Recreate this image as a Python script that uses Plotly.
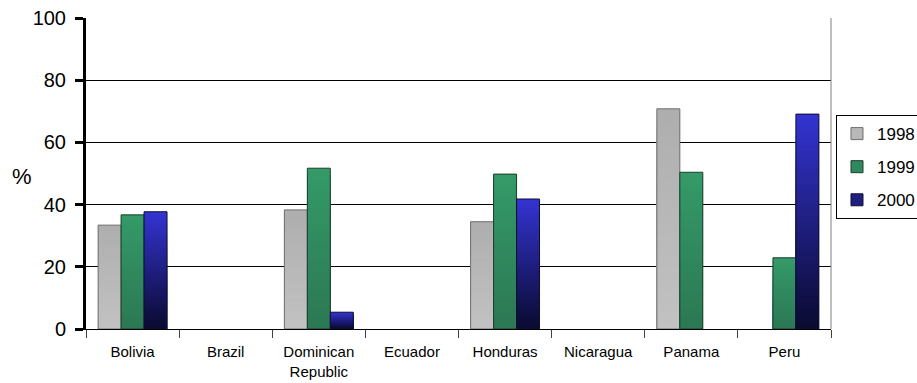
import plotly.graph_objects as go

# Categories and yearly shares (%)
countries = ["Bolivia", "Brazil", "Dominican<br>Republic", "Ecuador",
             "Honduras", "Nicaragua", "Panama", "Peru"]
years = ["1998", "1999", "2000"]
v1998 = [33.4, None, 38.3, None, 34.5, None, 70.8, None]
v1999 = [36.7, None, 51.7, None, 49.8, None, 50.4, 22.9]
v2000 = [37.7, None, 5.4, None, 41.8, None, None, 69.1]

# Gradient endpoints per series: (top colour, bottom colour, outline)
styles = {
    "1998": ((174, 174, 174), (194, 194, 194), "#6e6e6e"),
    "1999": ((52, 154, 104), (44, 120, 84), "#1c3d2a"),
    "2000": ((52, 52, 210), (10, 10, 48), "#101030"),
}
series = {"1998": v1998, "1999": v1999, "2000": v2000}

N_STEPS = 40
FONT = "Liberation Sans, Arial, sans-serif"

fig = go.Figure()


def mix(a, b, t):
    return "rgb(%d,%d,%d)" % tuple(round(a[i] + (b[i] - a[i]) * t) for i in range(3))


for yr in years:
    vals = series[yr]
    top, bottom, edge = styles[yr]
    # vertical gradient: nested bars from the full height down to the
    # lowest step, each painted over the previous one
    for k in range(N_STEPS - 1, -1, -1):
        t = (k + 0.5) / N_STEPS
        fig.add_trace(go.Bar(
            x=countries,
            y=[None if v is None else v * (k + 1) / N_STEPS for v in vals],
            offsetgroup=yr,
            marker=dict(color=mix(bottom, top, t), line=dict(width=0)),
            showlegend=False, hoverinfo="skip",
        ))
    # outline over the whole bar
    fig.add_trace(go.Bar(
        x=countries, y=vals, offsetgroup=yr, name=yr,
        marker=dict(color="rgba(0,0,0,0)", line=dict(color=edge, width=1)),
        showlegend=False,
    ))
    # legend entry
    fig.add_trace(go.Bar(
        x=[countries[0]], y=[None], offsetgroup=yr, name=yr,
        legendgroup=yr,
        marker=dict(color=mix(bottom, top, 0.5), line=dict(color=edge, width=1)),
        showlegend=True,
    ))

# thin frame line on the right side of the plot area
fig.add_shape(type="line", xref="paper", yref="paper", x0=1, x1=1, y0=0, y1=1,
              line=dict(color="#808080", width=1))

# horizontal axis title
fig.add_annotation(text="%", xref="paper", yref="paper", x=-0.086, y=0.49,
                   xanchor="center", yanchor="middle", showarrow=False,
                   font=dict(size=22, family=FONT, color="black"))

fig.update_layout(
    width=917, height=383,
    margin=dict(l=86, r=86, t=18, b=54, autoexpand=False),
    paper_bgcolor="white", plot_bgcolor="white",
    barmode="group", bargap=0.26, bargroupgap=0,
    font=dict(family=FONT, color="black"),
    showlegend=True,
    legend=dict(
        x=1.0067, y=0.688, xanchor="left", yanchor="top",
        bordercolor="black", borderwidth=1, bgcolor="white",
        font=dict(size=17, family=FONT),
        tracegroupgap=8, traceorder="grouped",
        itemwidth=30,
    ),
    xaxis=dict(
        showgrid=False, showline=True, linecolor="black", linewidth=1,
        ticks="outside", tickson="boundaries", ticklen=8, tickcolor="#404040",
        tickwidth=1, tickfont=dict(size=15, family=FONT), zeroline=False,
        ticklabelstandoff=9, fixedrange=True,
    ),
    yaxis=dict(
        range=[0, 100], tickvals=[0, 20, 40, 60, 80, 100],
        showgrid=True, gridcolor="black", gridwidth=1,
        showline=True, linecolor="black", linewidth=3,
        ticks="outside", ticklen=8, tickwidth=3, tickcolor="black",
        tickfont=dict(size=20, family=FONT), zeroline=False,
        ticklabelstandoff=5, fixedrange=True,
    ),
)

fig.write_html("out.html")
